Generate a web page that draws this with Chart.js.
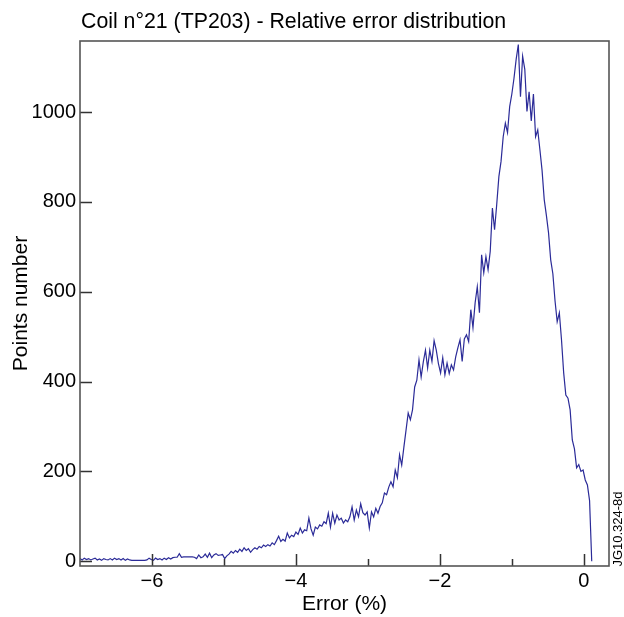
<!DOCTYPE html>
<html>
<head>
<meta charset="utf-8">
<script src="https://cdn.jsdelivr.net/npm/chart.js@4.4.0/dist/chart.umd.min.js"></script>
<style>
  html, body { margin: 0; padding: 0; background: #fff; }
</style>
</head>
<body>
<canvas id="hist" width="624" height="617"></canvas>
<script>
const titleText = 'Coil n°21 (TP203) - Relative error distribution';
const xTitle = 'Error (%)';
const yTitle = 'Points number';
const stampText = 'JG10.324-8d';

// histogram bins: first bin at -7.00 %, bin width 0.03 %
const binStart = -7.0;
const binWidth = 0.03;

// -7.00 .. -5.02
const tailCounts = [
  6, 3, 7, 4, 6, 3, 5, 7, 3, 5,
  2, 6, 4, 3, 6, 3, 7, 4, 6, 3,
  6, 2, 5, 3, 2, 2, 2, 2, 2, 2,
  2, 3, 7, 4, 2, 7, 4, 6, 3, 7,
  4, 8, 5, 8, 9, 9, 17, 9, 10, 10,
  10, 10, 10, 9, 6, 14, 8, 10, 16, 9,
  18, 8, 14, 17, 13, 14, 15
];
// -4.99 .. -2.50
const riseCounts = [
  6, 12, 16, 22, 18, 24, 20, 27, 22, 30,
  24, 28, 20, 26, 30, 27, 33, 30, 36, 33,
  37, 34, 41, 37, 46, 56, 44, 49, 45, 63,
  52, 58, 55, 65, 60, 74, 63, 70, 68, 96,
  72, 58, 76, 72, 81, 78, 88, 84, 107, 76,
  107, 85, 103, 92, 96, 85, 92, 88, 99, 121,
  92, 114, 99, 128, 108, 103, 110, 74, 110, 99,
  118, 107, 122, 130, 152, 148, 165, 177, 166, 203,
  186, 237, 214, 254
];
// -2.47 .. 0.11
const peakCounts = [
  292, 330, 315, 337, 388, 403, 448, 410, 444, 470,
  430, 470, 445, 491, 470, 440, 419, 453, 415, 441,
  418, 437, 426, 455, 475, 493, 445, 495, 504, 489,
  560, 520, 575, 611, 553, 682, 642, 678, 649, 690,
  786, 738, 794, 856, 890, 945, 975, 954, 1012, 1040,
  1075, 1117, 1150, 1034, 1124, 1095, 1001, 1045, 980, 1040,
  945, 960, 916, 870, 805, 770, 731, 671, 640, 580,
  533, 553, 493, 420, 370, 363, 337, 270, 250, 208,
  215, 200, 203, 181, 170, 135, 0
];

const xTickLabels = [-6, -4, -2, 0];
const xMinorTicks = [-5, -3, -1];
const yTickLabels = [0, 200, 400, 600, 800, 1000];

const counts = tailCounts.concat(riseCounts, peakCounts);
const points = counts.map((c, i) => ({ x: binStart + i * binWidth, y: c }));

const FONT = '"Liberation Sans", Arial, Helvetica, sans-serif';

// frame, inward tick marks, title and stamp
const frameTicks = {
  id: 'frameTicks',
  afterDatasetsDraw(chart) {
    const { ctx, chartArea: a, scales: { x, y } } = chart;
    ctx.save();
    ctx.strokeStyle = '#333';
    ctx.lineWidth = 1.5;
    ctx.beginPath();
    xTickLabels.forEach(v => {
      const px = Math.round(x.getPixelForValue(v)) + 0.5;
      ctx.moveTo(px, a.bottom);
      ctx.lineTo(px, a.bottom - 12);
    });
    xMinorTicks.forEach(v => {
      const px = Math.round(x.getPixelForValue(v)) + 0.5;
      ctx.moveTo(px, a.bottom);
      ctx.lineTo(px, a.bottom - 7);
    });
    yTickLabels.forEach(v => {
      const py = Math.round(y.getPixelForValue(v)) + 0.5;
      ctx.moveTo(a.left, py);
      ctx.lineTo(a.left + 12, py);
    });
    ctx.stroke();

    ctx.strokeStyle = '#555';
    ctx.lineWidth = 1.6;
    ctx.strokeRect(a.left, a.top, a.right - a.left, a.bottom - a.top);

    ctx.fillStyle = '#000';
    ctx.font = '21.3px ' + FONT;
    ctx.textAlign = 'left';
    ctx.textBaseline = 'alphabetic';
    ctx.fillText(titleText, a.left + 1, 28);

    ctx.translate(618, 529);
    ctx.rotate(-Math.PI / 2);
    ctx.font = '13px ' + FONT;
    ctx.textAlign = 'center';
    ctx.textBaseline = 'middle';
    ctx.fillText(stampText, 0, 0);
    ctx.restore();
  }
};

new Chart(document.getElementById('hist'), {
  type: 'line',
  data: {
    datasets: [{
      data: points,
      borderColor: '#2b2b98',
      borderWidth: 1.2,
      pointRadius: 0,
      tension: 0,
      fill: false
    }]
  },
  options: {
    responsive: false,
    animation: false,
    events: [],
    layout: { padding: { top: 41, right: 15, left: 0, bottom: 0 } },
    plugins: {
      legend: { display: false },
      tooltip: { enabled: false },
      title: { display: false }
    },
    scales: {
      x: {
        type: 'linear',
        min: -7.0,
        max: 0.35,
        afterFit: s => { s.height = 51; },
        afterBuildTicks: s => { s.ticks = xTickLabels.map(v => ({ value: v })); },
        grid: { display: false, drawTicks: false },
        border: { display: false },
        ticks: {
          padding: 3,
          color: '#000',
          maxRotation: 0,
          autoSkip: false,
          font: { size: 20, family: FONT },
          callback: v => v < 0 ? '\u2212' + Math.abs(v) : String(v)
        },
        title: {
          display: true,
          text: xTitle,
          color: '#000',
          font: { size: 21, family: FONT, lineHeight: 1.2 },
          padding: { top: 0, bottom: 0 }
        }
      },
      y: {
        type: 'linear',
        min: -10.5,
        max: 1158,
        afterFit: s => { s.width = 80; },
        afterBuildTicks: s => { s.ticks = yTickLabels.map(v => ({ value: v })); },
        grid: { display: false, drawTicks: false },
        border: { display: false },
        ticks: {
          padding: 4,
          color: '#000',
          autoSkip: false,
          font: { size: 20, family: FONT },
          callback: v => String(v)
        },
        title: {
          display: true,
          text: yTitle,
          color: '#000',
          font: { size: 21, family: FONT, lineHeight: 1.2 },
          padding: { top: 9, bottom: 0 }
        }
      }
    }
  },
  plugins: [frameTicks]
});
</script>
</body>
</html>
